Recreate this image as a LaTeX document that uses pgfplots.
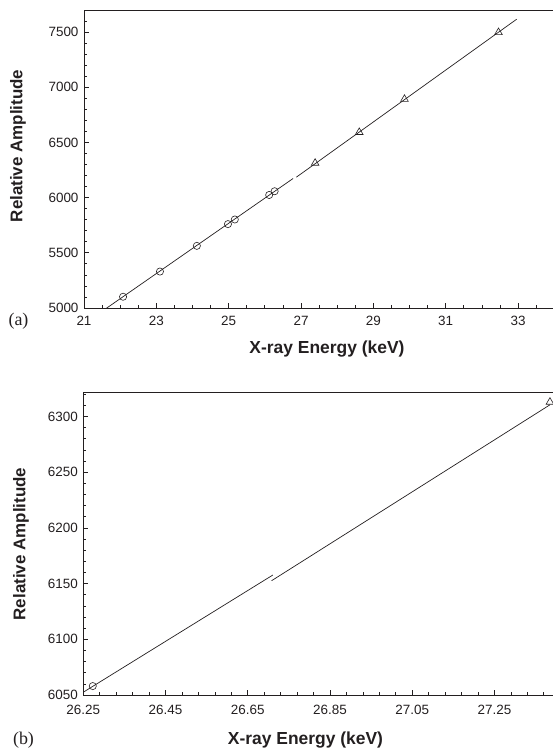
\documentclass[border=0pt]{standalone}
\usepackage{pgfplots}
\pgfplotsset{compat=1.18}
\usepackage{fontspec}
\setmainfont{Liberation Sans}
\newfontfamily\serifA{Liberation Serif}
\definecolor{ink}{RGB}{35,31,32}
\pgfplotsset{
  common/.style={
    scale only axis,
    anchor=south west,
    axis line style={ink, line width=0.9bp},
    tick style={ink, line width=0.7bp},
    major tick length=4.5bp,
    minor tick length=3bp,
    tick align=inside,
    xtick pos=bottom,
    ytick pos=left,
    clip=true,
    ticklabel style={font=\fontsize{13.5}{15}\selectfont, text=ink},
    /pgf/number format/assume math mode=true,
    /pgf/number format/1000 sep={},
  }
}
\begin{document}
\begin{tikzpicture}
\useasboundingbox (0,0) rectangle (553bp,749bp);
% ---------------- panel (a)
\begin{axis}[common,
  at={(84bp,441bp)}, width=472bp, height=298bp,
  xmin=21, xmax=34.05, ymin=5000, ymax=7700,
  xtick={21,23,25,27,29,31,33},
  xticklabels={21,23,25,27,29,31,33},
  minor xtick={21,21.5,...,34},
  ytick={5000,5500,6000,6500,7000,7500},
  yticklabels={5000,5500,6000,6500,7000,7500},
  minor ytick={5000,5100,...,7700},
  xticklabel style={yshift=-5bp},
  yticklabel style={xshift=-2bp},
]
\addplot[ink, line width=0.7bp] coordinates {(21.60,4993) (26.78,6173)};
\addplot[ink, line width=0.7bp] coordinates {(26.87,6185) (32.96,7616)};
\addplot[only marks, mark=o, mark size=3.6bp, mark options={ink, line width=0.6bp}] coordinates {
 (22.08,5102) (23.10,5330) (24.12,5563) (24.98,5760) (25.17,5802) (26.12,6024) (26.27,6058)};
\addplot[only marks, mark=triangle, mark size=4.4bp, mark options={ink, line width=0.6bp}] coordinates {
 (27.39,6313) (28.61,6592) (29.86,6892) (32.46,7497)};
\end{axis}
% ---------------- panel (b)
\begin{axis}[common,
  at={(83.3bp,54bp)}, width=472bp, height=303bp,
  xmin=26.25, xmax=27.398, ymin=6050, ymax=6322,
  xtick={26.25,26.45,26.65,26.85,27.05,27.25},
  xticklabels={26.25,26.45,26.65,26.85,27.05,27.25},
  minor xtick={26.29,26.33,26.37,26.41,26.49,26.53,26.57,26.61,26.69,26.73,26.77,26.81,26.89,26.93,26.97,27.01,27.09,27.13,27.17,27.21,27.29,27.33,27.37},
  ytick={6050,6100,6150,6200,6250,6300},
  yticklabels={6050,6100,6150,6200,6250,6300},
  minor ytick={6050,6060,...,6320},
  xticklabel style={yshift=-7bp},
  yticklabel style={xshift=-2bp},
  clip=false,
]
\addplot[ink, line width=0.7bp] coordinates {(26.25,6052.5) (26.711,6157.7)};
\addplot[ink, line width=0.7bp] coordinates {(26.708,6152.6) (27.385,6310.5)};
\addplot[only marks, mark=o, mark size=3.6bp, mark options={ink, line width=0.6bp}] coordinates {(26.273,6058)};
\addplot[only marks, mark=triangle, mark size=4.4bp, mark options={ink, line width=0.6bp}] coordinates {(27.385,6313)};
\end{axis}
% ---------------- labels
\node[font=\fontsize{17.5}{20}\selectfont\bfseries, text=ink] at (327bp,400bp) {X-ray Energy (keV)};
\node[font=\fontsize{17}{20}\selectfont\bfseries, text=ink, rotate=90] at (18bp,603bp) {Relative Amplitude};
\node[font=\fontsize{18}{20}\selectfont\serifA, text=ink] at (18.5bp,428bp) {(a)};
\node[font=\fontsize{17.5}{20}\selectfont\bfseries, text=ink] at (305.5bp,9bp) {X-ray Energy (keV)};
\node[font=\fontsize{17}{20}\selectfont\bfseries, text=ink, rotate=90] at (21bp,205bp) {Relative Amplitude};
\node[font=\fontsize{18}{20}\selectfont\serifA, text=ink] at (23.5bp,9bp) {(b)};
\end{tikzpicture}
\end{document}
